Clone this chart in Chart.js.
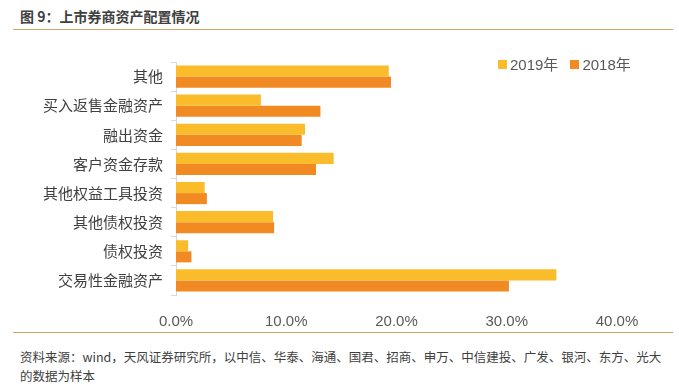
<!DOCTYPE html>
<html>
<head>
<meta charset="utf-8">
<script src="https://cdn.jsdelivr.net/npm/chart.js@4"></script>
<style>
  body { margin: 0; width: 679px; height: 387px; background: #fff; position: relative; overflow: hidden;
         font-family: "Liberation Sans", "Noto Sans CJK SC", sans-serif; }
  #title { position: absolute; left: 20px; top: 6px; font-size: 14px; font-weight: bold; color: #404040;
           font-family: "Noto Sans CJK SC", sans-serif; }
  .rule { position: absolute; left: 13px; width: 660px; height: 1px; background: #c9a46a; }
  #box { position: absolute; left: 0; top: 45px; width: 679px; height: 285px; }
  #legend { position: absolute; left: 498px; top: 53px; font-size: 15px; color: #595959;
            font-family: "Liberation Sans", "Noto Sans CJK SC", sans-serif; }
  #legend span.sw { display: inline-block; width: 9px; height: 9px; margin-right: 3px; vertical-align: 1px; }
  #legend span.it { margin-right: 12px; }
  #src { position: absolute; left: 20px; top: 347px; font-size: 12.5px; color: #404040; line-height: 19px;
         font-family: "Noto Sans CJK SC", sans-serif; white-space: nowrap; }
</style>
</head>
<body>
<div id="title">图 9：上市券商资产配置情况</div>
<div class="rule" style="top:29px"></div>
<div id="box"><canvas id="c"></canvas></div>
<div id="legend"></div>
<div class="rule" style="top:332px"></div>
<div id="src">资料来源：wind，天风证券研究所，以中信、华泰、海通、国君、招商、申万、中信建投、广发、银河、东方、光大<br>的数据为样本</div>
<script>
const categories = ["其他","买入返售金融资产","融出资金","客户资金存款","其他权益工具投资","其他债权投资","债权投资","交易性金融资产"];
const seriesNames = ["2019年","2018年"];
const values2019 = [19.3, 7.7, 11.7, 14.3, 2.6, 8.8, 1.1, 34.5];
const values2018 = [19.5, 13.1, 11.4, 12.7, 2.8, 8.9, 1.4, 30.2];
const xTicks = [0, 10, 20, 30, 40];
const colors = ["#fbbc2c", "#f28a24"];

const datasets = [values2019, values2018].map((d, i) => ({
  label: seriesNames[i],
  data: d,
  backgroundColor: colors[i],
  borderWidth: 0,
  categoryPercentage: 0.76,
  barPercentage: 1.0
}));

// legend
document.getElementById("legend").innerHTML = seriesNames.map((n, i) =>
  '<span class="it"><span class="sw" style="background:' + colors[i] + '"></span>' + n + '</span>').join("");

new Chart("c", {
  type: "bar",
  data: { labels: categories, datasets: datasets },
  options: {
    indexAxis: "y",
    responsive: true,
    maintainAspectRatio: false,
    animation: false,
    layout: { padding: { top: 10, right: 62, left: 0, bottom: 0 } },
    plugins: { legend: { display: false }, tooltip: { enabled: false } },
    scales: {
      x: {
        min: 0, max: 40,
        afterBuildTicks: s => { s.ticks = xTicks.map(v => ({ value: v })); },
        afterFit: s => { s.height = 35; },
        grid: { display: false },
        border: { display: false },
        ticks: {
          padding: 10,
          color: "#595959",
          font: { size: 15, family: "Liberation Sans" },
          callback: v => v.toFixed(1) + "%"
        }
      },
      y: {
        afterFit: s => { s.width = 176; },
        grid: { display: true, drawOnChartArea: false, offset: true, tickLength: 5, color: "#d9d9d9" },
        border: { display: true, color: "#d9d9d9" },
        ticks: {
          padding: 8,
          color: "#404040",
          font: { size: 15, family: "Noto Sans CJK SC" }
        }
      }
    }
  }
});
</script>
</body>
</html>
